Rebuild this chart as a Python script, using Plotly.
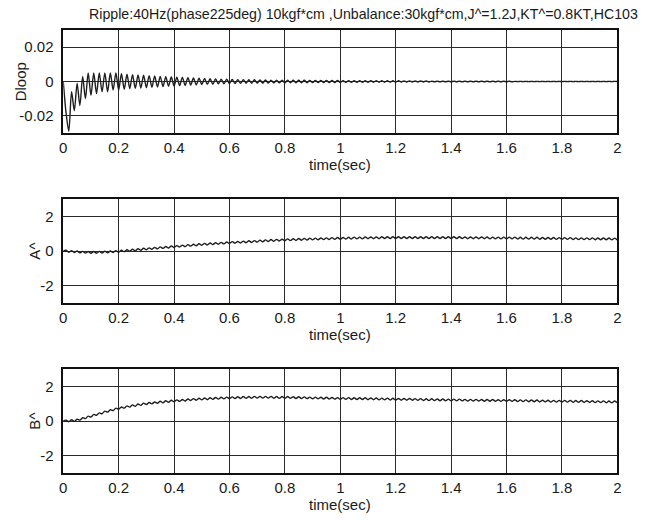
import plotly.graph_objects as go

dt = 0.01
dloop = [
    0.0, -0.018, -0.029, -0.006, -0.017, -0.001, -0.014, 0.003, -0.010, 0.005,
    -0.008, 0.005, -0.007, 0.005, -0.006, 0.005, -0.006, 0.005, -0.005, 0.005,
    -0.005, 0.0045, -0.0045, 0.0042, -0.0042, 0.004, -0.004, 0.0038, -0.0038, 0.0036,
    -0.0036, 0.0034, -0.0034, 0.0032, -0.0032, 0.003, -0.003, 0.0028, -0.0028, 0.0026,
    -0.0026, 0.0025, -0.0024, 0.0024, -0.0023, 0.0022, -0.0021, 0.0021, -0.002, 0.0019,
    -0.0018, 0.0018, -0.0017, 0.0016, -0.0016, 0.0015, -0.0014, 0.0014, -0.0013, 0.0013,
    -0.0012, 0.0012, -0.0012, 0.0011, -0.0011, 0.0011, -0.001, 0.001, -0.001, 0.001,
    -0.0009, 0.0009, -0.0009, 0.0009, -0.0009, 0.0008, -0.0008, 0.0008, -0.0008, 0.0008,
    -0.0008, 0.0008, -0.0007, 0.0007, -0.0007, 0.0007, -0.0007, 0.0007, -0.0007, 0.0006,
    -0.0006, 0.0006, -0.0006, 0.0006, -0.0006, 0.0006, -0.0006, 0.0006, -0.0006, 0.0006,
    -0.0006, 0.0005, -0.0005, 0.0005, -0.0005, 0.0005, -0.0005, 0.0005, -0.0005, 0.0005,
    -0.0005, 0.0005, -0.0004, 0.0004, -0.0004, 0.0004, -0.0004, 0.0004, -0.0004, 0.0004,
    -0.0004, 0.0004, -0.0003, 0.0003, -0.0003, 0.0003, -0.0003, 0.0003, -0.0003, 0.0003,
    -0.0003, 0.0003, -0.0003, 0.0002, -0.0002, 0.0002, -0.0002, 0.0002, -0.0002, 0.0002,
    -0.0002, 0.0002, -0.0002, 0.0002, -0.0002, 0.0002, -0.0002, 0.0002, -0.0002, 0.0002,
    -0.0002, 0.0002, -0.0002, 0.0002, -0.0002, 0.0002, -0.0002, 0.0002, -0.0002, 0.0002,
    -0.0002, 0.0002, -0.0002, 0.0001, -0.0001, 0.0001, -0.0001, 0.0001, -0.0001, 0.0001,
    -0.0001, 0.0001, -0.0001, 0.0001, -0.0001, 0.0001, -0.0001, 0.0001, -0.0001, 0.0001,
    -0.0001, 0.0001, -0.0001, 0.0001, -0.0001, 0.0001, -0.0001, 0.0001, -0.0001, 0.0001,
    -0.0001, 0.0001, -0.0001, 0.0001, -0.0001, 0.0001, -0.0001, 0.0001, -0.0001, 0.0001,
    0.0,
]
a_hat = [
    0.0, 0.04, -0.07, 0.02, -0.09, 0.0, -0.11, -0.02, -0.12, -0.03,
    -0.13, -0.03, -0.13, -0.02, -0.12, -0.01, -0.10, 0.0, -0.09, 0.02,
    -0.07, 0.04, -0.04, 0.07, -0.01, 0.10, 0.01, 0.13, 0.04, 0.16,
    0.07, 0.18, 0.10, 0.21, 0.12, 0.24, 0.15, 0.26, 0.17, 0.29,
    0.20, 0.31, 0.23, 0.34, 0.25, 0.37, 0.28, 0.39, 0.30, 0.42,
    0.33, 0.44, 0.35, 0.46, 0.37, 0.48, 0.39, 0.50, 0.41, 0.52,
    0.43, 0.54, 0.45, 0.55, 0.46, 0.57, 0.48, 0.59, 0.49, 0.60,
    0.51, 0.63, 0.53, 0.64, 0.55, 0.66, 0.56, 0.67, 0.58, 0.68,
    0.59, 0.70, 0.60, 0.71, 0.61, 0.72, 0.62, 0.73, 0.63, 0.74,
    0.64, 0.74, 0.65, 0.75, 0.66, 0.76, 0.66, 0.77, 0.67, 0.78,
    0.68, 0.78, 0.69, 0.79, 0.69, 0.80, 0.70, 0.80, 0.70, 0.81,
    0.71, 0.81, 0.71, 0.81, 0.71, 0.82, 0.72, 0.82, 0.72, 0.82,
    0.72, 0.82, 0.72, 0.82, 0.72, 0.82, 0.72, 0.82, 0.72, 0.82,
    0.72, 0.82, 0.72, 0.82, 0.72, 0.82, 0.72, 0.82, 0.72, 0.82,
    0.72, 0.82, 0.72, 0.82, 0.72, 0.81, 0.71, 0.81, 0.71, 0.81,
    0.71, 0.81, 0.71, 0.81, 0.70, 0.80, 0.70, 0.80, 0.70, 0.80,
    0.70, 0.80, 0.70, 0.80, 0.69, 0.79, 0.69, 0.79, 0.69, 0.79,
    0.69, 0.79, 0.68, 0.78, 0.68, 0.78, 0.68, 0.78, 0.67, 0.77,
    0.67, 0.77, 0.67, 0.77, 0.66, 0.76, 0.66, 0.76, 0.66, 0.76,
    0.66, 0.76, 0.65, 0.75, 0.65, 0.75, 0.65, 0.75, 0.64, 0.74,
    0.64,
]
b_hat = [
    0.0, 0.05, -0.04, 0.07, -0.02, 0.10, 0.05, 0.19, 0.14, 0.28,
    0.23, 0.38, 0.33, 0.47, 0.42, 0.57, 0.51, 0.65, 0.60, 0.74,
    0.68, 0.81, 0.74, 0.87, 0.80, 0.93, 0.85, 0.98, 0.90, 1.03,
    0.95, 1.07, 0.99, 1.10, 1.02, 1.14, 1.05, 1.17, 1.08, 1.20,
    1.11, 1.22, 1.13, 1.24, 1.15, 1.27, 1.18, 1.29, 1.20, 1.31,
    1.22, 1.33, 1.23, 1.34, 1.25, 1.36, 1.26, 1.37, 1.28, 1.38,
    1.29, 1.39, 1.30, 1.40, 1.30, 1.41, 1.31, 1.41, 1.31, 1.42,
    1.32, 1.42, 1.32, 1.42, 1.32, 1.42, 1.31, 1.41, 1.31, 1.41,
    1.31, 1.41, 1.31, 1.40, 1.30, 1.40, 1.30, 1.39, 1.29, 1.38,
    1.28, 1.38, 1.28, 1.37, 1.27, 1.37, 1.27, 1.36, 1.26, 1.35,
    1.25, 1.35, 1.25, 1.35, 1.24, 1.34, 1.24, 1.34, 1.24, 1.34,
    1.23, 1.33, 1.23, 1.33, 1.22, 1.32, 1.22, 1.32, 1.21, 1.31,
    1.20, 1.30, 1.20, 1.30, 1.20, 1.30, 1.20, 1.29, 1.19, 1.29,
    1.18, 1.28, 1.18, 1.28, 1.18, 1.27, 1.17, 1.27, 1.17, 1.26,
    1.16, 1.26, 1.16, 1.26, 1.16, 1.25, 1.15, 1.25, 1.15, 1.25,
    1.15, 1.24, 1.14, 1.24, 1.14, 1.24, 1.14, 1.23, 1.13, 1.23,
    1.13, 1.23, 1.13, 1.23, 1.12, 1.22, 1.12, 1.22, 1.11, 1.21,
    1.11, 1.21, 1.10, 1.20, 1.10, 1.20, 1.09, 1.19, 1.09, 1.19,
    1.09, 1.19, 1.09, 1.19, 1.08, 1.18, 1.08, 1.18, 1.07, 1.17,
    1.07, 1.17, 1.06, 1.16, 1.06, 1.16, 1.05, 1.15, 1.05, 1.15,
    1.05,
]
time = [round(i * dt, 2) for i in range(len(dloop))]

x_tickvals = [0, 0.2, 0.4, 0.6, 0.8, 1.0, 1.2, 1.4, 1.6, 1.8, 2.0]
x_ticktext = ["0", "0.2", "0.4", "0.6", "0.8", "1", "1.2", "1.4", "1.6", "1.8", "2"]
d_tickvals = [-0.02, 0, 0.02]
d_ticktext = ["-0.02", "0", "0.02"]
ab_tickvals = [-2, 0, 2]
ab_ticktext = ["-2", "0", "2"]

title_text = "Ripple:40Hz(phase225deg) 10kgf*cm ,Unbalance:30kgf*cm,J^=1.2J,KT^=0.8KT,HC103"
x_title = "time(sec)"
y_titles = ["Dloop", "A^", "B^"]

# ---------------- layout ----------------
W, H = 648, 520
FONT = "Liberation Sans, Arial, sans-serif"
INK = "#1a1a1a"

x0, x1 = 60 / W, 621 / W
panels = [(30, 133), (199, 303), (369, 473)]  # (top px, bottom px)

fig = go.Figure()
series = [dloop, a_hat, b_hat]
yranges = [[-0.03, 0.03], [-3, 3], [-3, 3]]
yticks = [(d_tickvals, d_ticktext), (ab_tickvals, ab_ticktext), (ab_tickvals, ab_ticktext)]

layout = dict(
    width=W, height=H,
    margin=dict(l=0, r=0, t=0, b=0),
    paper_bgcolor="white", plot_bgcolor="white",
    showlegend=False,
    font=dict(family=FONT, size=14, color=INK),
    annotations=[],
)

for i, (ys, yr, (tv, tt), (top, bot)) in enumerate(zip(series, yranges, yticks, panels)):
    n = "" if i == 0 else str(i + 1)
    fig.add_trace(go.Scatter(
        x=time, y=ys, mode="lines",
        line=dict(color="#1e1e1e", width=1.4, shape="spline", smoothing=0.8),
        xaxis="x" + n, yaxis="y" + n,
    ))
    ax = dict(
        domain=[x0, x1], range=[0, 2], anchor="y" + n,
        tickvals=x_tickvals, ticktext=x_ticktext,
        showgrid=True, gridcolor="#2a2a2a", gridwidth=1,
        showline=True, linecolor="#111111", linewidth=1.5, mirror=True,
        ticks="", zeroline=False, ticklabelstandoff=0,
        tickfont=dict(family=FONT, size=15, color=INK),
    )
    ay = dict(
        domain=[1 - bot / H, 1 - top / H], range=yr, anchor="x" + n,
        tickvals=tv, ticktext=tt,
        showgrid=True, gridcolor="#2a2a2a", gridwidth=1,
        showline=True, linecolor="#111111", linewidth=1.5, mirror=True,
        ticks="", zeroline=False, ticklabelstandoff=5,
        tickfont=dict(family=FONT, size=15, color=INK),
    )
    layout["xaxis" + n] = ax
    layout["yaxis" + n] = ay
    # x-axis title
    layout["annotations"].append(dict(
        text=x_title, xref="paper", yref="paper",
        x=340 / W, y=1 - (bot + 31) / H, xanchor="center", yanchor="middle",
        showarrow=False, font=dict(family=FONT, size=15, color=INK),
    ))
    # y-axis title
    ytx = 17 if i == 0 else 30
    layout["annotations"].append(dict(
        text=y_titles[i], xref="paper", yref="paper", textangle=-90,
        x=ytx / W, y=1 - ((top + bot) / 2) / H, xanchor="center", yanchor="middle",
        showarrow=False, font=dict(family=FONT, size=15, color=INK),
    ))

layout["annotations"].append(dict(
    text=title_text, xref="paper", yref="paper",
    x=364 / W, y=1 - 14 / H, xanchor="center", yanchor="middle",
    showarrow=False, font=dict(family=FONT, size=14.2, color=INK),
))

fig.update_layout(**layout)
fig.write_html("out.html")
